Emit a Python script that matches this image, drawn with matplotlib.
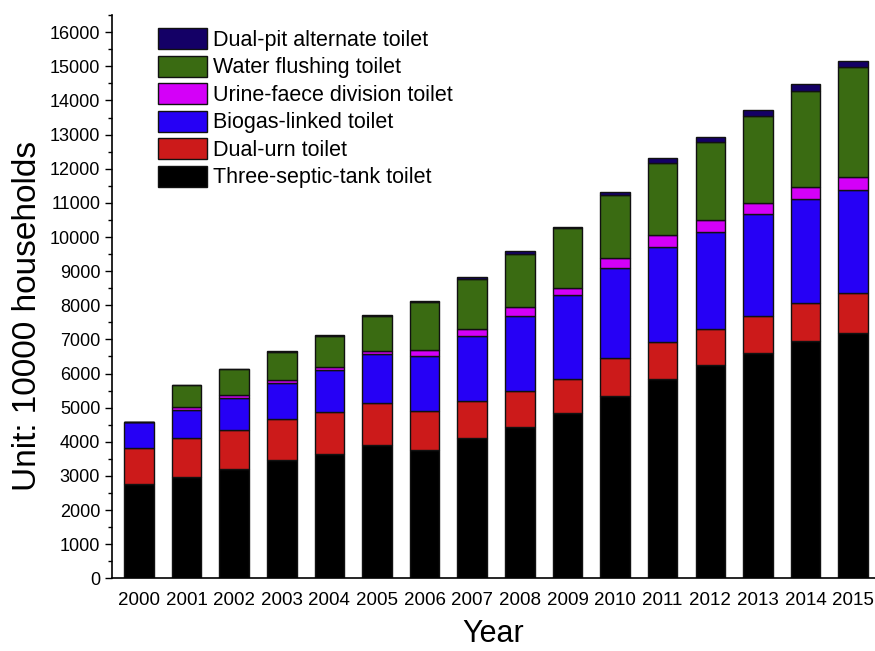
import numpy as np
import matplotlib as mpl
import matplotlib.pyplot as plt
from matplotlib.ticker import MultipleLocator

mpl.rcParams.update({
    "font.family": ["Liberation Sans", "DejaVu Sans"],
    "axes.linewidth": 1.2,
    "xtick.direction": "out", "ytick.direction": "out",
})

# 数据（单位：万户）
years = [str(y) for y in range(2000, 2016)]
three_septic = [2750, 2980, 3200, 3460, 3650, 3915, 3770, 4110, 4440, 4830,
                5350, 5830, 6250, 6595, 6955, 7195]
dual_urn = [1060, 1120, 1150, 1210, 1230, 1220, 1135, 1085, 1050, 1000,
            1100, 1100, 1045, 1090, 1120, 1155]
biogas = [770, 830, 940, 1060, 1220, 1430, 1620, 1915, 2205, 2470,
          2635, 2785, 2860, 2990, 3050, 3030]
urine_faece = [0, 100, 90, 80, 80, 90, 175, 195, 245, 215,
               300, 335, 345, 335, 335, 370]
water_flush = [0, 635, 750, 820, 920, 1020, 1390, 1455, 1560, 1740,
               1845, 2110, 2295, 2540, 2830, 3240]
dual_pit = [0, 0, 0, 20, 20, 25, 30, 65, 80, 40,
            100, 165, 130, 175, 185, 175]

series = [
    ("Three-septic-tank toilet", three_septic, "#000000"),
    ("Dual-urn toilet", dual_urn, "#CC1A1A"),
    ("Biogas-linked toilet", biogas, "#2600F5"),
    ("Urine-faece division toilet", urine_faece, "#D400F8"),
    ("Water flushing toilet", water_flush, "#3A6B12"),
    ("Dual-pit alternate toilet", dual_pit, "#140066"),
]

fig = plt.figure(figsize=(8.75, 6.51), dpi=100)
ax = fig.add_axes([0.128, 0.1117, 0.872, 0.865])

x = np.arange(len(years))
bottom = np.zeros(len(years))
handles = []
for name, vals, col in series:
    vals = np.asarray(vals, dtype=float)
    h = ax.bar(x, vals, 0.62, bottom=bottom, color=col, edgecolor="#111111",
               linewidth=1.0, label=name)
    handles.append(h)
    bottom += vals

ax.set_xlim(-0.567, 15.46)
ax.set_ylim(0, 16500)
ax.set_xticks(x)
ax.set_xticklabels(years)
ax.tick_params(axis="x", length=0, pad=10, labelsize=13.5)
ax.yaxis.set_major_locator(MultipleLocator(1000))
ax.yaxis.set_minor_locator(MultipleLocator(500))
ax.tick_params(axis="y", which="major", length=5, width=1, labelsize=13)
ax.tick_params(axis="y", which="minor", length=3, width=1)
ax.spines["top"].set_visible(False)
ax.spines["right"].set_visible(False)

ax.set_ylabel("Unit: 10000 households", fontsize=24)
ax.yaxis.set_label_coords(-0.09, 0.465)
ax.set_xlabel("Year", fontsize=22, labelpad=7)

leg = ax.legend(handles[::-1], [s[0] for s in series][::-1], loc="upper left",
                bbox_to_anchor=(0.0603, 0.977), frameon=False, fontsize=15.5,
                handlelength=2.28, handleheight=1.12, labelspacing=0.22,
                handletextpad=0.28, borderaxespad=0.0, borderpad=0.0)

fig.savefig("out.png", dpi=100)
